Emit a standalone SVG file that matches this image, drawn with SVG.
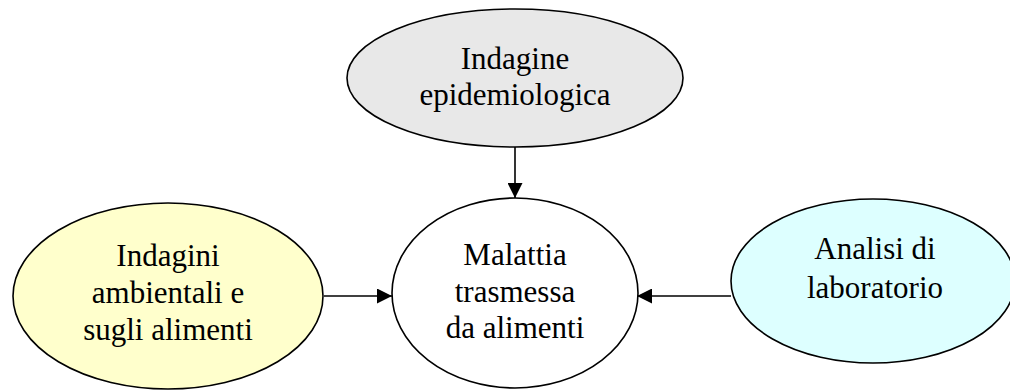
<svg xmlns="http://www.w3.org/2000/svg" width="1010" height="390" viewBox="0 0 1010 390">
<style>
.n{stroke:#000;stroke-width:1.6}
.t{font-family:"Liberation Serif","Times New Roman",serif;font-size:31px;fill:#000;text-anchor:middle}
.c{stroke:#000;stroke-width:1.6;fill:none}
</style>
<defs>
<marker id="ah" markerWidth="15" markerHeight="15" refX="15" refY="7.5" orient="auto" markerUnits="userSpaceOnUse">
<path d="M0,0 L15,7.5 L0,15 Z" fill="#000"/>
</marker>
</defs>
<rect width="1010" height="390" fill="#fff"/>
<g id="connectors">
<line class="c" x1="515" y1="147" x2="515" y2="198" marker-end="url(#ah)"/>
<line class="c" x1="324" y1="296" x2="392" y2="296" marker-end="url(#ah)"/>
<line class="c" x1="731" y1="296" x2="637" y2="296" marker-end="url(#ah)"/>
</g>
<g id="indagine-epidemiologica">
<ellipse class="n" cx="515" cy="78" rx="168" ry="69" fill="#e8e8e8"/>
<text class="t" x="515" y="69">Indagine</text>
<text class="t" x="515" y="105">epidemiologica</text>
</g>
<g id="malattia">
<ellipse class="n" cx="515" cy="293" rx="123" ry="95" fill="#fff"/>
<text class="t" x="515" y="265">Malattia</text>
<text class="t" x="515" y="302">trasmessa</text>
<text class="t" x="515" y="338">da alimenti</text>
</g>
<g id="indagini-ambientali">
<ellipse class="n" cx="168" cy="296" rx="155" ry="93" fill="#ffffcc"/>
<text class="t" x="168" y="266">Indagini</text>
<text class="t" x="168" y="303">ambientali e</text>
<text class="t" x="168" y="340">sugli alimenti</text>
</g>
<g id="analisi-laboratorio">
<ellipse class="n" cx="873" cy="281" rx="142" ry="82" fill="#ddffff"/>
<text class="t" x="875" y="259">Analisi di</text>
<text class="t" x="875" y="298">laboratorio</text>
</g>
</svg>
